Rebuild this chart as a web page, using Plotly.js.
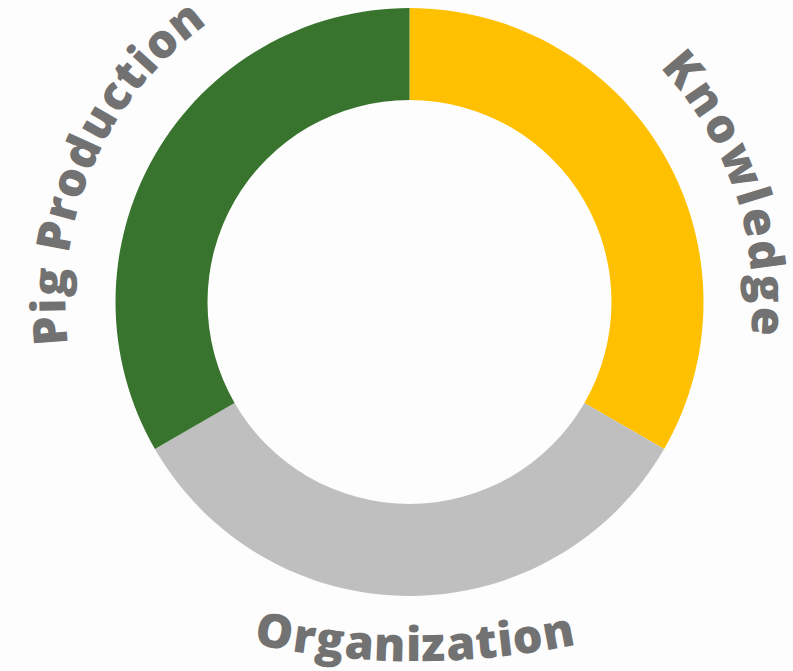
<!DOCTYPE html>
<html>
<head>
<meta charset="utf-8">
<script src="https://cdn.plot.ly/plotly-3.0.1.min.js"></script>
<style>html,body{margin:0;padding:0;background:#fdfdfd;}#chart{width:793px;height:671px;}</style>
</head>
<body>
<div id="chart"></div>
<script>
// ---- data ----
const categories = ["Knowledge", "Organization", "Pig Production"];
const shares = [1, 1, 1];
const sliceColors = ["#FFC000", "#BFBFBF", "#38742E"];

// ---- styling / geometry ----
const W = 793, H = 671;
const CX = 409.5, CY = 302, R_OUT = 294, R_IN = 202;
const FONT_FAMILY = "Open Sans";
const FONT_SIZE = 47;
const FONT_WEIGHT = 800;
const TEXT_COLOR = "#727272";

// label arcs: type 'ring' = concentric, tops outward, clockwise reading
//             type 'smile' = own circle, tops inward, left-to-right reading
const labelArcs = {
  "Knowledge":      {type: "ring", baseR: 343, a0: 47, a1: 95.5},
  "Pig Production": {type: "ring", baseR: 344, a0: -97, a1: -36},
  "Organization":   {type: "smile", cx: 415, baseY: 661, R: 800, x0: 253, x1: 577}
};

const canvas = document.createElement("canvas");
const ctx = canvas.getContext("2d");
ctx.font = FONT_WEIGHT + " " + FONT_SIZE + "px '" + FONT_FAMILY + "'";
const fm = ctx.measureText("Hg");
const asc = fm.fontBoundingBoxAscent || FONT_SIZE * 1.07;
const desc = fm.fontBoundingBoxDescent || FONT_SIZE * 0.29;
const boxOffset = (asc - desc) / 2; // baseline -> text box centre
const xHalf = FONT_SIZE * 0.27;

function px2paper(x, y) { return [x / W, 1 - y / H]; }

const annotations = [];
function addChar(ch, x, y, rot) {
  if (ch.trim() === "") return;
  const p = px2paper(x, y);
  annotations.push({
    text: ch, x: p[0], y: p[1], xref: "paper", yref: "paper",
    xanchor: "center", yanchor: "middle", showarrow: false,
    textangle: rot, borderpad: 0,
    font: {family: FONT_FAMILY, size: FONT_SIZE, weight: FONT_WEIGHT, color: TEXT_COLOR}
  });
}

categories.forEach(function (label) {
  const g = labelArcs[label];
  const chars = label.split("");
  const widths = chars.map(function (c) { return ctx.measureText(c).width; });
  const total = widths.reduce(function (a, b) { return a + b; }, 0);
  if (g.type === "ring") {
    const rm = g.baseR + xHalf;
    const L = rm * (g.a1 - g.a0) * Math.PI / 180;
    const sp = (L - total) / (chars.length - 1);
    let acc = 0;
    const rBox = g.baseR + boxOffset;
    chars.forEach(function (c, i) {
      const mid = acc + widths[i] / 2;
      acc += widths[i] + sp;
      const th = g.a0 + (mid / rm) * 180 / Math.PI;
      const t = th * Math.PI / 180;
      addChar(c, CX + rBox * Math.sin(t), CY - rBox * Math.cos(t), th);
    });
  } else {
    const cy = g.baseY - g.R;
    const f0 = Math.asin((g.x0 - g.cx) / g.R), f1 = Math.asin((g.x1 - g.cx) / g.R);
    const rm = g.R - xHalf;
    const L = rm * (f1 - f0);
    const sp = (L - total) / (chars.length - 1);
    let acc = 0;
    const rBox = g.R - boxOffset;
    chars.forEach(function (c, i) {
      const mid = acc + widths[i] / 2;
      acc += widths[i] + sp;
      const f = f0 + mid / rm;
      addChar(c, g.cx + rBox * Math.sin(f), cy + rBox * Math.cos(f), -f * 180 / Math.PI);
    });
  }
});

const trace = {
  type: "pie",
  labels: categories,
  values: shares,
  marker: {colors: sliceColors, line: {width: 0}},
  hole: R_IN / R_OUT,
  sort: false,
  direction: "clockwise",
  rotation: 0,
  textinfo: "none",
  hoverinfo: "label",
  showlegend: false,
  domain: {
    x: [(CX - R_OUT) / W, (CX + R_OUT) / W],
    y: [1 - (CY + R_OUT) / H, 1 - (CY - R_OUT) / H]
  }
};

const layout = {
  width: W, height: H, autosize: false,
  margin: {l: 0, r: 0, t: 0, b: 0, pad: 0},
  paper_bgcolor: "#fdfdfd",
  plot_bgcolor: "#fdfdfd",
  showlegend: false,
  annotations: annotations
};

Plotly.newPlot("chart", [trace], layout, {displayModeBar: false, staticPlot: true});
</script>
</body>
</html>
